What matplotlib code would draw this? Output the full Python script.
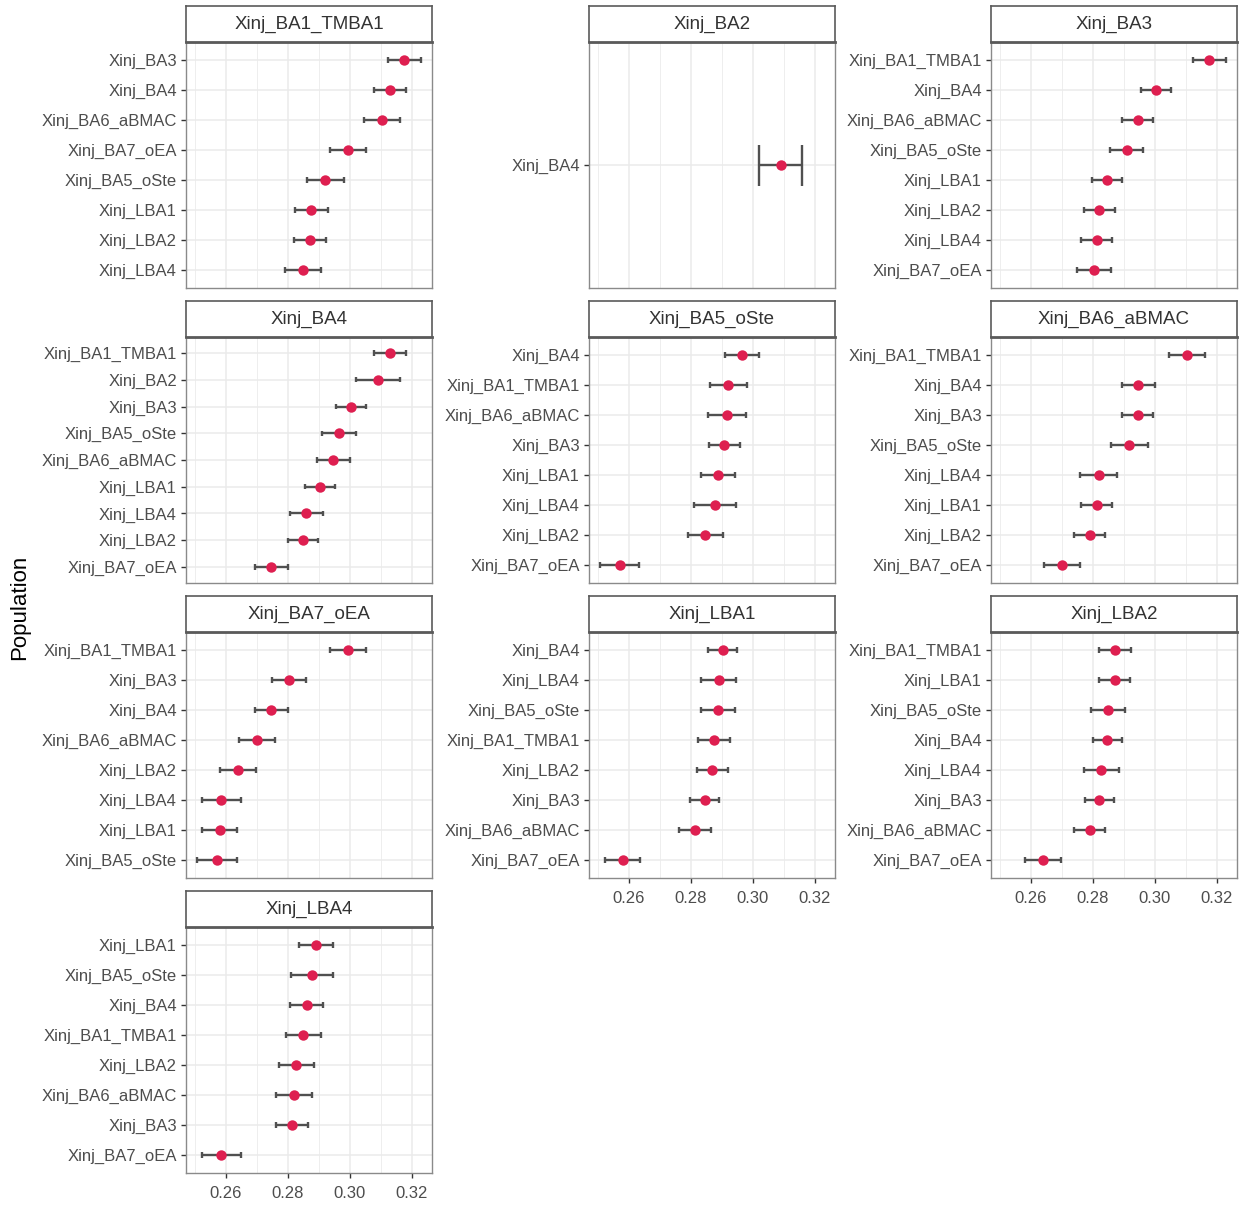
import matplotlib
matplotlib.use("Agg")
import matplotlib.pyplot as plt
import numpy as np

plt.rcParams["font.family"] = ["Liberation Sans", "DejaVu Sans"]

# populations are listed top -> bottom inside each facet; ci = half width
ba1_tmba1_pops = ["Xinj_BA3", "Xinj_BA4", "Xinj_BA6_aBMAC", "Xinj_BA7_oEA",
                  "Xinj_BA5_oSte", "Xinj_LBA1", "Xinj_LBA2", "Xinj_LBA4"]
ba1_tmba1_mean = [0.3177, 0.3131, 0.3104, 0.2995, 0.2922, 0.2876, 0.2873, 0.2850]
ba1_tmba1_ci = [0.0053, 0.0052, 0.0058, 0.0058, 0.0061, 0.0053, 0.0052, 0.0059]

ba2_pops = ["Xinj_BA4"]
ba2_mean = [0.3091]
ba2_ci = [0.0069]

ba3_pops = ["Xinj_BA1_TMBA1", "Xinj_BA4", "Xinj_BA6_aBMAC", "Xinj_BA5_oSte",
            "Xinj_LBA1", "Xinj_LBA2", "Xinj_LBA4", "Xinj_BA7_oEA"]
ba3_mean = [0.3177, 0.3005, 0.2945, 0.2910, 0.2846, 0.2822, 0.2813, 0.2804]
ba3_ci = [0.0053, 0.0048, 0.0050, 0.0053, 0.0048, 0.0049, 0.0051, 0.0054]

ba4_pops = ["Xinj_BA1_TMBA1", "Xinj_BA2", "Xinj_BA3", "Xinj_BA5_oSte",
            "Xinj_BA6_aBMAC", "Xinj_LBA1", "Xinj_LBA4", "Xinj_LBA2", "Xinj_BA7_oEA"]
ba4_mean = [0.3131, 0.3092, 0.3005, 0.2967, 0.2948, 0.2904, 0.2860, 0.2849, 0.2747]
ba4_ci = [0.0051, 0.0070, 0.0048, 0.0055, 0.0052, 0.0048, 0.0053, 0.0048, 0.0053]

ba5_osete_pops = ["Xinj_BA4", "Xinj_BA1_TMBA1", "Xinj_BA6_aBMAC", "Xinj_BA3",
                  "Xinj_LBA1", "Xinj_LBA4", "Xinj_LBA2", "Xinj_BA7_oEA"]
ba5_osete_mean = [0.2965, 0.2922, 0.2917, 0.2909, 0.2889, 0.2879, 0.2848, 0.2571]
ba5_osete_ci = [0.0055, 0.0060, 0.0061, 0.0050, 0.0054, 0.0068, 0.0055, 0.0062]

ba6_abmac_pops = ["Xinj_BA1_TMBA1", "Xinj_BA4", "Xinj_BA3", "Xinj_BA5_oSte",
                  "Xinj_LBA4", "Xinj_LBA1", "Xinj_LBA2", "Xinj_BA7_oEA"]
ba6_abmac_mean = [0.3104, 0.2948, 0.2945, 0.2919, 0.2820, 0.2813, 0.2791, 0.2702]
ba6_abmac_ci = [0.0058, 0.0052, 0.0050, 0.0061, 0.0060, 0.0051, 0.0050, 0.0058]

ba7_oea_pops = ["Xinj_BA1_TMBA1", "Xinj_BA3", "Xinj_BA4", "Xinj_BA6_aBMAC",
                "Xinj_LBA2", "Xinj_LBA4", "Xinj_LBA1", "Xinj_BA5_oSte"]
ba7_oea_mean = [0.2995, 0.2804, 0.2747, 0.2702, 0.2640, 0.2586, 0.2581, 0.2572]
ba7_oea_ci = [0.0058, 0.0054, 0.0053, 0.0058, 0.0059, 0.0064, 0.0056, 0.0064]

lba1_pops = ["Xinj_BA4", "Xinj_LBA4", "Xinj_BA5_oSte", "Xinj_BA1_TMBA1",
             "Xinj_LBA2", "Xinj_BA3", "Xinj_BA6_aBMAC", "Xinj_BA7_oEA"]
lba1_mean = [0.2903, 0.2891, 0.2889, 0.2875, 0.2870, 0.2846, 0.2813, 0.2581]
lba1_ci = [0.0048, 0.0056, 0.0054, 0.0052, 0.0050, 0.0047, 0.0052, 0.0056]

lba2_pops = ["Xinj_BA1_TMBA1", "Xinj_LBA1", "Xinj_BA5_oSte", "Xinj_BA4",
             "Xinj_LBA4", "Xinj_BA3", "Xinj_BA6_aBMAC", "Xinj_BA7_oEA"]
lba2_mean = [0.2873, 0.2871, 0.2850, 0.2848, 0.2828, 0.2822, 0.2791, 0.2640]
lba2_ci = [0.0051, 0.0049, 0.0055, 0.0048, 0.0056, 0.0047, 0.0050, 0.0059]

lba4_pops = ["Xinj_LBA1", "Xinj_BA5_oSte", "Xinj_BA4", "Xinj_BA1_TMBA1",
             "Xinj_LBA2", "Xinj_BA6_aBMAC", "Xinj_BA3", "Xinj_BA7_oEA"]
lba4_mean = [0.2892, 0.2880, 0.2861, 0.2851, 0.2828, 0.2820, 0.2813, 0.2586]
lba4_ci = [0.0055, 0.0068, 0.0052, 0.0057, 0.0056, 0.0059, 0.0052, 0.0064]

facets = [
    ("Xinj_BA1_TMBA1", ba1_tmba1_pops, ba1_tmba1_mean, ba1_tmba1_ci),
    ("Xinj_BA2", ba2_pops, ba2_mean, ba2_ci),
    ("Xinj_BA3", ba3_pops, ba3_mean, ba3_ci),
    ("Xinj_BA4", ba4_pops, ba4_mean, ba4_ci),
    ("Xinj_BA5_oSte", ba5_osete_pops, ba5_osete_mean, ba5_osete_ci),
    ("Xinj_BA6_aBMAC", ba6_abmac_pops, ba6_abmac_mean, ba6_abmac_ci),
    ("Xinj_BA7_oEA", ba7_oea_pops, ba7_oea_mean, ba7_oea_ci),
    ("Xinj_LBA1", lba1_pops, lba1_mean, lba1_ci),
    ("Xinj_LBA2", lba2_pops, lba2_mean, lba2_ci),
    ("Xinj_LBA4", lba4_pops, lba4_mean, lba4_ci),
]

POINT = "#DE1F50"
EBAR = "#505050"
GRID = "#EBEBEB"
BORDER = "#5A5A5A"
TXT = "#4D4D4D"

W, H = 1246, 1205
fig = plt.figure(figsize=(W / 100, H / 100), dpi=100)

COL_X = [186, 589, 991]          # panel left edges (px)
ROW_Y = [42, 337, 632, 927]      # panel top edges (px)
PW, PH, SH = 246, 246, 36        # panel width/height, strip height

# shared x scale, expanded 5% like ggplot
lo_all = min(m - c for _, _, ms, cs in facets for m, c in zip(ms, cs))
hi_all = max(m + c for _, _, ms, cs in facets for m, c in zip(ms, cs))
pad = 0.05 * (hi_all - lo_all)
xlim = (lo_all - pad, hi_all + pad)

for i, (title, pops, mean, ci) in enumerate(facets):
    r, c = divmod(i, 3)
    x0, y0 = COL_X[c], ROW_Y[r]
    ax = fig.add_axes([x0 / W, 1 - (y0 + PH) / H, PW / W, PH / H])
    n = len(pops)
    ys = np.arange(n, 0, -1)
    mean = np.asarray(mean)
    ci = np.asarray(ci)
    lo, hi = mean - ci, mean + ci

    ax.hlines(ys, lo, hi, color=EBAR, lw=1.7, zorder=3)
    ax.vlines(lo, ys - 0.1, ys + 0.1, color=EBAR, lw=1.7, zorder=3)
    ax.vlines(hi, ys - 0.1, ys + 0.1, color=EBAR, lw=1.7, zorder=3)
    ax.plot(mean, ys, "o", ms=7.5, color=POINT, mec="none", zorder=4)

    ax.set_yticks(ys)
    ax.set_yticklabels(pops)
    ax.set_xticks([0.26, 0.28, 0.30, 0.32])
    ax.set_xticks([0.25, 0.27, 0.29, 0.31], minor=True)
    # limits after ticks, otherwise set_xticks widens the view
    ax.set_xlim(*xlim)
    ax.set_ylim(0.4, n + 0.6)
    ax.grid(which="major", color=GRID, lw=1.1, zorder=0)
    ax.grid(which="minor", axis="x", color=GRID, lw=0.6, zorder=0)
    ax.set_axisbelow(True)
    ax.tick_params(which="major", length=3.5, width=1, color="#333333",
                   labelsize=12, labelcolor=TXT, pad=3)
    ax.tick_params(axis="x", which="major", pad=6)
    ax.tick_params(which="minor", length=0)
    if i + 3 < len(facets):
        ax.tick_params(axis="x", which="major", length=0, labelbottom=False)
    for s in ax.spines.values():
        s.set_color("#8A8A8A")
        s.set_linewidth(1.0)

    sax = fig.add_axes([x0 / W, 1 - y0 / H, PW / W, SH / H])
    sax.set_xticks([])
    sax.set_yticks([])
    sax.set_facecolor("white")
    for s in sax.spines.values():
        s.set_color(BORDER)
        s.set_linewidth(1.2)
    sax.spines["bottom"].set_linewidth(2.0)
    sax.text(0.5, 0.5, title, ha="center", va="center", fontsize=13.5,
             color="#333333", transform=sax.transAxes)

fig.text(20 / W, 1 - 607 / H, "Population", rotation=90, ha="center",
         va="center", fontsize=16, color="black")

fig.savefig("out.png", dpi=100)
